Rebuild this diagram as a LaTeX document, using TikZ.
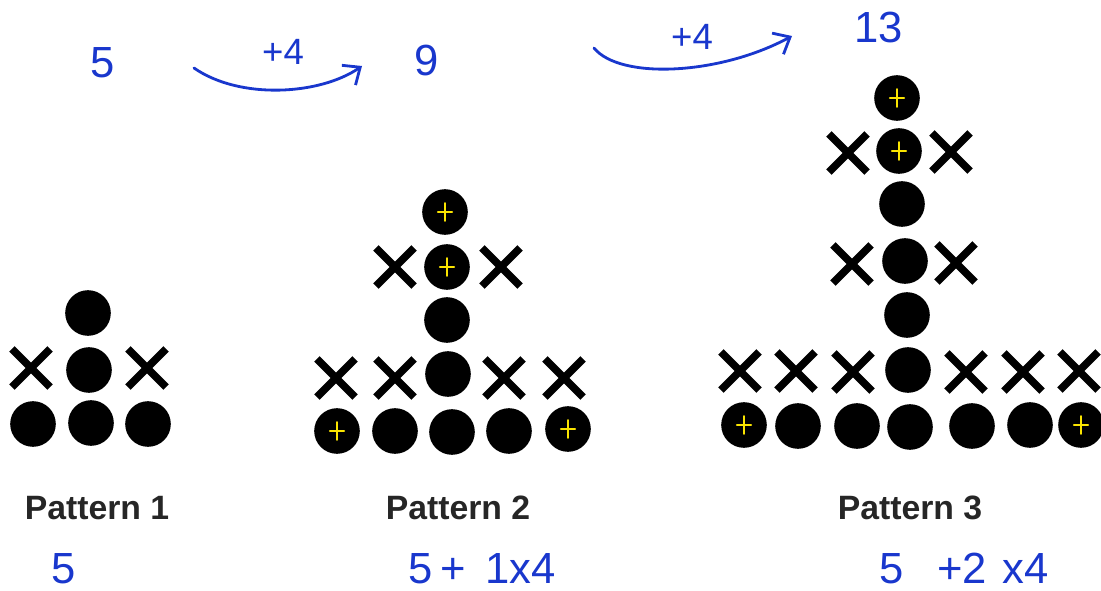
\documentclass[tikz,border=0pt]{standalone}
\usepackage{fontspec}
\setmainfont{Liberation Sans}
\usetikzlibrary{shapes.misc, arrows.meta}

\definecolor{inkblue}{RGB}{25,55,205}
\definecolor{markyellow}{RGB}{250,228,0}

\begin{document}
\begin{tikzpicture}[
    x=0.025cm, y=-0.025cm,
    dot/.style={circle, fill=black, minimum size=1.14cm, inner sep=0pt},
    plusdot/.style={dot, path picture={
        \draw[markyellow, line width=1.4pt, line cap=round]
        ([xshift=-0.18cm]path picture bounding box.center) -- ++(0.36cm,0)
        ([yshift=0.22cm]path picture bounding box.center) -- ++(0,-0.44cm);}},
    xmark/.style={cross out, draw=black, line width=5.5pt, minimum size=0.76cm, inner sep=0pt},
    patlabel/.style={text=black!85, font=\bfseries\fontsize{24}{24}\selectfont},
    ink/.style={text=inkblue, inner sep=1pt, font=\fontsize{31}{31}\selectfont},
    inksmall/.style={text=inkblue, inner sep=1pt, font=\fontsize{26}{26}\selectfont},
    inkarrow/.style={draw=inkblue, line width=2pt, line cap=round, -{Straight Barb[length=3.5mm, width=6mm]}}
]
\useasboundingbox (0,0) rectangle (1101,591);

% Pattern 1
\node[dot] (p1top) at (88,313) {};
\node[xmark] (p1xl) at (31,368) {};
\node[dot] (p1mid) at (89,370) {};
\node[xmark] (p1xr) at (147,368) {};
\node[dot] (p1b1) at (33,424) {};
\node[dot] (p1b2) at (91,423) {};
\node[dot] (p1b3) at (148,424) {};

% Pattern 2
\node[plusdot] (p2top) at (445,212) {};
\node[xmark] (p2xl) at (395,267) {};
\node[plusdot] (p2r2) at (447,267) {};
\node[xmark] (p2xr) at (501,267) {};
\node[dot] (p2r3) at (447,320) {};
\node[xmark] (p2x1) at (336,378) {};
\node[xmark] (p2x2) at (395,378) {};
\node[dot] (p2r4) at (448,374) {};
\node[xmark] (p2x3) at (504,378) {};
\node[xmark] (p2x4) at (564,378) {};
\node[plusdot] (p2b1) at (337,431) {};
\node[dot] (p2b2) at (395,431) {};
\node[dot] (p2b3) at (452,432) {};
\node[dot] (p2b4) at (509,431) {};
\node[plusdot] (p2b5) at (568,429) {};

% Pattern 3
\node[plusdot] (p3top) at (897,98) {};
\node[xmark] (p3xl1) at (848,153) {};
\node[plusdot] (p3r2) at (899,151) {};
\node[xmark] (p3xr1) at (951,152) {};
\node[dot] (p3r3) at (902,204) {};
\node[xmark] (p3xl2) at (852,264) {};
\node[dot] (p3r4) at (905,261) {};
\node[xmark] (p3xr2) at (956,263) {};
\node[dot] (p3r5) at (907,315) {};
\node[xmark] (p3x1) at (740,371) {};
\node[xmark] (p3x2) at (796,371) {};
\node[xmark] (p3x3) at (853,372) {};
\node[dot] (p3r6) at (908,370) {};
\node[xmark] (p3x4) at (966,372) {};
\node[xmark] (p3x5) at (1023,372) {};
\node[xmark] (p3x6) at (1079,371) {};
\node[plusdot] (p3b1) at (744,425) {};
\node[dot] (p3b2) at (798,426) {};
\node[dot] (p3b3) at (857,426) {};
\node[dot] (p3b4) at (910,427) {};
\node[dot] (p3b5) at (972,426) {};
\node[dot] (p3b6) at (1030,425) {};
\node[plusdot] (p3b7) at (1081,425) {};

% Labels
\node[patlabel] (lab1) at (97,508) {Pattern 1};
\node[patlabel] (lab2) at (458,508) {Pattern 2};
\node[patlabel] (lab3) at (910,508) {Pattern 3};

% Handwritten counts
\node[ink] (n5) at (103,63) {5};
\node[inksmall] (step1) at (283,52) {+4};
\node[ink] (n9) at (427,60) {9};
\node[inksmall] (step2) at (692,37) {+4};
\node[ink] (n13) at (879,27) {13};

\node[ink] (f1) at (64,569) {5};
\node[ink] (f2) at (482,569) {5\,+\ \,1x4};
\node[ink] (f3) at (964,568) {5\hspace{0.85cm}+2\hspace{0.4cm}x4};

% Arrows
\coordinate (a1s) at (194,68);
\coordinate (a1e) at (362,66);
\coordinate (a2s) at (594,48);
\coordinate (a2e) at (792,36);
\draw[inkarrow] (a1s) .. controls (240,100) and (320,95) .. (a1e);
\draw[inkarrow] (a2s) .. controls (620,80) and (720,75) .. (a2e);

\end{tikzpicture}
\end{document}
